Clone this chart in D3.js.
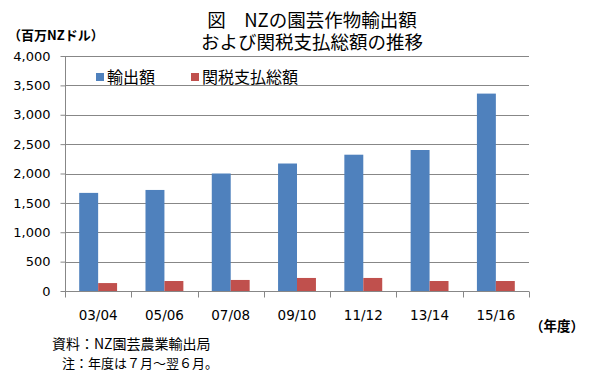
<!DOCTYPE html>
<html>
<head>
<meta charset="utf-8">
<script src="https://cdn.jsdelivr.net/npm/d3@7"></script>
<style>
  body { margin: 0; background: #fff; }
  svg { display: block; }
  .jp { font-family: "Noto Sans CJK JP", sans-serif; fill: #000; }
  .num { font-family: "DejaVu Sans", sans-serif; font-size: 13px; fill: #000; }
</style>
</head>
<body>
<svg id="chart" width="596" height="378"></svg>
<script>
// data
var years = ["03/04", "05/06", "07/08", "09/10", "11/12", "13/14", "15/16"]
var exports = [1670, 1720, 2000, 2170, 2320, 2400, 3360]
var tariffs = [135, 170, 188, 222, 222, 170, 170]
var seriesNames = ["輸出額", "関税支払総額"]
var seriesColors = ["#4f81bd", "#c0504d"]
var yTicks = [0, 500, 1000, 1500, 2000, 2500, 3000, 3500, 4000]
var titleLines = ["図　NZの園芸作物輸出額", "および関税支払総額の推移"]

var margin = { top: 56, left: 65, bottom: 87, right: 67 }
var svgWidth = 596
var svgHeight = 378
var width = svgWidth - margin.left - margin.right
var height = svgHeight - margin.top - margin.bottom

var svg = d3.select("#chart")
var g = svg.append("g")
    .attr("transform", `translate(${margin.left},${margin.top})`)

var x0 = d3.scaleBand().domain(years).range([0, width])
var x1 = d3.scaleBand().domain([0, 1])
    .range([0, x0.bandwidth()])
    .paddingOuter(0.75)
var y = d3.scaleLinear().domain([0, 4000]).range([height, 0])

// gridlines
g.selectAll(".grid")
    .data(yTicks.filter(d => d > 0))
    .join("line")
    .attr("x1", 0).attr("x2", width)
    .attr("y1", d => Math.round(y(d)) + 0.5)
    .attr("y2", d => Math.round(y(d)) + 0.5)
    .attr("stroke", "#878787")

// bars
var rows = years.map((yr, i) => ({ yr: yr, vals: [exports[i], tariffs[i]] }))
var grp = g.selectAll(".grp").data(rows).join("g")
    .attr("transform", d => `translate(${x0(d.yr)},0)`)
grp.selectAll("rect")
    .data(d => d.vals.map((v, k) => ({ k: k, v: v })))
    .join("rect")
    .attr("x", d => x1(d.k))
    .attr("width", x1.bandwidth())
    .attr("y", d => y(d.v))
    .attr("height", d => height - y(d.v))
    .attr("fill", d => seriesColors[d.k])

// y axis
var yAxis = g.append("g")
    .attr("transform", "translate(0.5,0)")
    .call(d3.axisLeft(y).tickValues(yTicks).tickFormat(d3.format(",")).tickSize(5).tickPadding(10))
yAxis.select(".domain").attr("stroke", "#878787").attr("d", `M0,${y(4000)}V${height}`)
yAxis.selectAll(".tick line").attr("stroke", "#878787")
yAxis.selectAll(".tick text").attr("class", "num").attr("font-size", null).attr("font-family", null)

// x axis
var xAxis = g.append("g")
    .attr("transform", `translate(0,${Math.round(height) + 0.5})`)
xAxis.append("line").attr("x1", 0).attr("x2", width).attr("stroke", "#878787")
xAxis.selectAll(".xt")
    .data(years.map(d => x0(d)).concat([width]))
    .join("line")
    .attr("x1", d => Math.round(d) + 0.5).attr("x2", d => Math.round(d) + 0.5)
    .attr("y1", 0).attr("y2", 6)
    .attr("stroke", "#878787")
xAxis.selectAll(".xl")
    .data(years)
    .join("text")
    .attr("class", "num")
    .attr("x", d => x0(d) + x0.bandwidth() / 2)
    .attr("y", 23)
    .attr("text-anchor", "middle")
    .attr("dominant-baseline", "central")
    .style("font-size", "13.5px")
    .text(d => d)

// legend
var legendX = [96, 191]
seriesNames.forEach((name, k) => {
    svg.append("rect")
        .attr("x", legendX[k]).attr("y", 73)
        .attr("width", 8).attr("height", 8)
        .attr("fill", seriesColors[k])
    svg.append("text")
        .attr("class", "jp")
        .attr("x", legendX[k] + 11).attr("y", 76)
        .attr("dominant-baseline", "central")
        .style("font-size", "16px")
        .text(name)
})

// title (two lines in one text)
var title = svg.append("text").attr("class", "jp")
    .attr("text-anchor", "middle")
    .style("font-size", "18.5px")
title.selectAll("tspan")
    .data(titleLines)
    .join("tspan")
    .attr("x", 312)
    .attr("y", (d, i) => 27 + i * 22)
    .text(d => d)

// notes
svg.append("text").attr("class", "jp")
    .attr("x", 8).attr("y", 34)
    .attr("dominant-baseline", "central")
    .style("font-size", "13px").style("font-weight", "bold")
    .text("（百万NZドル）")
svg.append("text").attr("class", "jp")
    .attr("x", 530).attr("y", 325)
    .attr("dominant-baseline", "central")
    .style("font-size", "13.5px").style("font-weight", "bold")
    .text("（年度）")
svg.append("text").attr("class", "jp")
    .attr("x", 52).attr("y", 343)
    .attr("dominant-baseline", "central")
    .style("font-size", "14px")
    .text("資料：NZ園芸農業輸出局")
svg.append("text").attr("class", "jp")
    .attr("x", 62).attr("y", 362)
    .attr("dominant-baseline", "central")
    .style("font-size", "13px")
    .text("注：年度は７月～翌６月。")
</script>
</body>
</html>
